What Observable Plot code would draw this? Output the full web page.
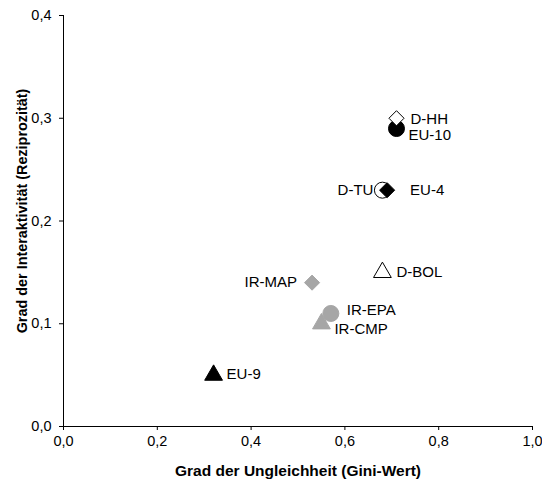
<!DOCTYPE html>
<html><head><meta charset="utf-8">
<script src="https://cdn.jsdelivr.net/npm/d3@7"></script>
<script src="https://cdn.jsdelivr.net/npm/@observablehq/plot@0.6"></script>
<style>
body{margin:0;background:#fff;font-family:"Liberation Sans",Arial,sans-serif;}
</style></head><body><div id="chart"></div>
<script>
const names = ["D-TU", "D-BOL", "D-HH", "EU-4", "EU-10", "EU-9", "IR-MAP", "IR-CMP", "IR-EPA"];
const gini = [0.68, 0.68, 0.71, 0.69, 0.71, 0.32, 0.53, 0.55, 0.57];
const reciprocity = [0.23, 0.15, 0.30, 0.23, 0.29, 0.05, 0.14, 0.10, 0.11];
const shapes = ["circle", "triangle", "diamond2", "diamond2", "circle", "triangle", "diamond2", "triangle", "circle"];
const groups = ["open", "open", "open", "black", "black", "black", "grey", "grey", "grey"];
const xTicks = [0, 0.2, 0.4, 0.6, 0.8, 1.0];
const yTicks = [0, 0.1, 0.2, 0.3, 0.4];

const fillOf = {open: "white", black: "black", grey: "#a6a6a6"};
const strokeOf = {open: "black", black: "black", grey: "#a6a6a6"};
const sizeOf = {circle: 8, diamond2: 6.8, triangle: 6.6};
const data = names.map((n, i) => ({name: n, x: gini[i], y: reciprocity[i], shape: shapes[i], g: groups[i]}));

// label placement (styling)
const labelStyle = {
  "D-HH": {dx: 14, dy: 1, anchor: "start"},
  "EU-10": {dx: 12, dy: 7, anchor: "start"},
  "D-TU": {dx: -9, dy: 0, anchor: "end"},
  "EU-4": {dx: 23, dy: 0, anchor: "start"},
  "D-BOL": {dx: 14, dy: 0, anchor: "start"},
  "IR-MAP": {dx: -15, dy: 0, anchor: "end"},
  "IR-EPA": {dx: 16, dy: -3, anchor: "start"},
  "IR-CMP": {dx: 13, dy: 5, anchor: "start"},
  "EU-9": {dx: 13, dy: -1, anchor: "start"}
};
const fmt = d => d.toFixed(1).replace(".", ",");

const marks = [
  Plot.ruleX([0], {stroke: "black"}),
  Plot.ruleY([0], {stroke: "black"}),
  Plot.axisX({ticks: xTicks, tickFormat: fmt, tickSize: 4, tickPadding: 5, fontSize: 14.5, label: null}),
  Plot.axisY({ticks: yTicks, tickFormat: fmt, tickSize: 4, tickPadding: 8, fontSize: 14.5, label: null}),
  Plot.dot(data, {x: "x", y: "y", symbol: d => d.shape, r: d => sizeOf[d.shape],
    fill: d => fillOf[d.g], stroke: d => strokeOf[d.g], strokeWidth: 1}),
  ...names.map(n => Plot.text(data.filter(d => d.name === n), {x: "x", y: "y", text: "name",
    dx: labelStyle[n].dx, dy: labelStyle[n].dy, textAnchor: labelStyle[n].anchor, fontSize: 15, fill: "black"})),
  Plot.text(["Grad der Ungleichheit (Gini-Wert)"], {frameAnchor: "bottom", dy: 49, fontWeight: "bold", fontSize: 15.5, fill: "black"}),
  Plot.text(["Grad der Interaktivität (Reziprozität)"], {frameAnchor: "left", rotate: -90, textAnchor: "middle", dx: -41, dy: -10, fontWeight: "bold", fontSize: 14.4, fill: "black"})
];

const chart = Plot.plot({
  width: 542, height: 486,
  marginLeft: 63, marginRight: 10, marginTop: 15, marginBottom: 60,
  style: {fontFamily: "'Liberation Sans', Arial, sans-serif", background: "white", color: "black"},
  x: {domain: [0, 1], ticks: xTicks},
  y: {domain: [0, 0.4], ticks: yTicks},
  symbol: {type: "identity"},
  r: {type: "identity"},
  marks
});
document.getElementById("chart").appendChild(chart);
</script></body></html>
